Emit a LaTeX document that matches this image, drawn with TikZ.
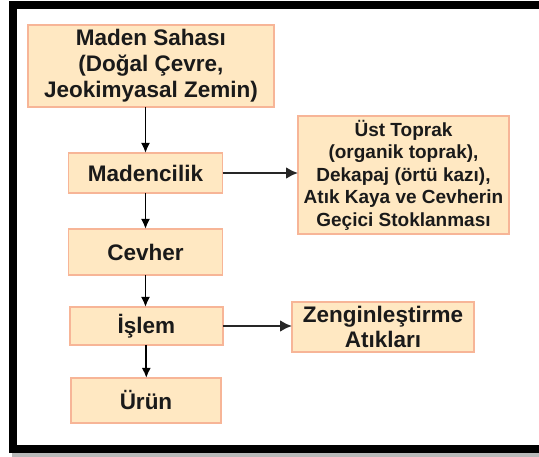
\documentclass[tikz,border=0pt]{standalone}
\usepackage{fontspec}
\setmainfont{Liberation Sans}
\usetikzlibrary{arrows.meta}
\definecolor{boxfill}{HTML}{FFE8C2}
\definecolor{boxline}{HTML}{F7B597}
\definecolor{txt}{HTML}{1A1A1A}
\tikzset{
  stagebox/.style={draw=boxline, fill=boxfill, line width=1.8pt, inner sep=0pt, outer sep=0pt,
    align=center, text=txt, font=\bfseries\fontsize{22.5}{26}\selectfont},
  varrow/.style={line width=1.8pt, -{Latex[length=10pt,width=9pt]}},
  harrow/.style={line width=2.6pt, draw=black!85, -{Latex[length=12pt,width=12pt]}}
}
\begin{document}
\begin{tikzpicture}[x=1pt,y=-1pt]
\useasboundingbox (0,0) rectangle (539,457);
% shadow and frame
\fill[gray!55] (12,452) rectangle (539,457);
\draw[line width=8pt] (13,5.5) rectangle (560,449);
% nodes
\node[stagebox, minimum width=246pt, minimum height=82pt] (maden) at (151,66)
  {Maden Sahası\\(Doğal Çevre,\\Jeokimyasal Zemin)};
\node[stagebox, minimum width=154pt, minimum height=40pt] (madencilik) at (145.5,173) {Madencilik};
\node[stagebox, minimum width=154pt, minimum height=46pt] (cevher) at (145.5,252) {Cevher};
\node[stagebox, minimum width=153pt, minimum height=38pt] (islem) at (146.3,326) {İşlem};
\node[stagebox, minimum width=150pt, minimum height=45pt] (urun) at (146,400.5) {Ürün};
\node[stagebox, minimum width=211pt, minimum height=118pt, font=\bfseries\fontsize{19}{22.5}\selectfont] (ust) at (403.5,175)
  {Üst Toprak\\(organik toprak),\\Dekapaj (örtü kazı),\\Atık Kaya ve Cevherin\\Geçici Stoklanması};
\node[stagebox, minimum width=182pt, minimum height=50pt, font=\bfseries\fontsize{22.5}{25}\selectfont] (zengin) at (383,327)
  {Zenginleştirme\\Atıkları};
% connectors
\draw[varrow] (maden.south -| madencilik.north) -- (madencilik.north);
\draw[varrow] (madencilik.south) -- (cevher.north);
\draw[varrow] (cevher.south) -- (islem.north -| cevher.south);
\draw[varrow] (islem.south) -- (urun.north -| islem.south);
\draw[harrow] (madencilik.east) -- (ust.west |- madencilik.east);
\draw[harrow] (islem.east) -- (zengin.west |- islem.east);
\end{tikzpicture}
\end{document}
